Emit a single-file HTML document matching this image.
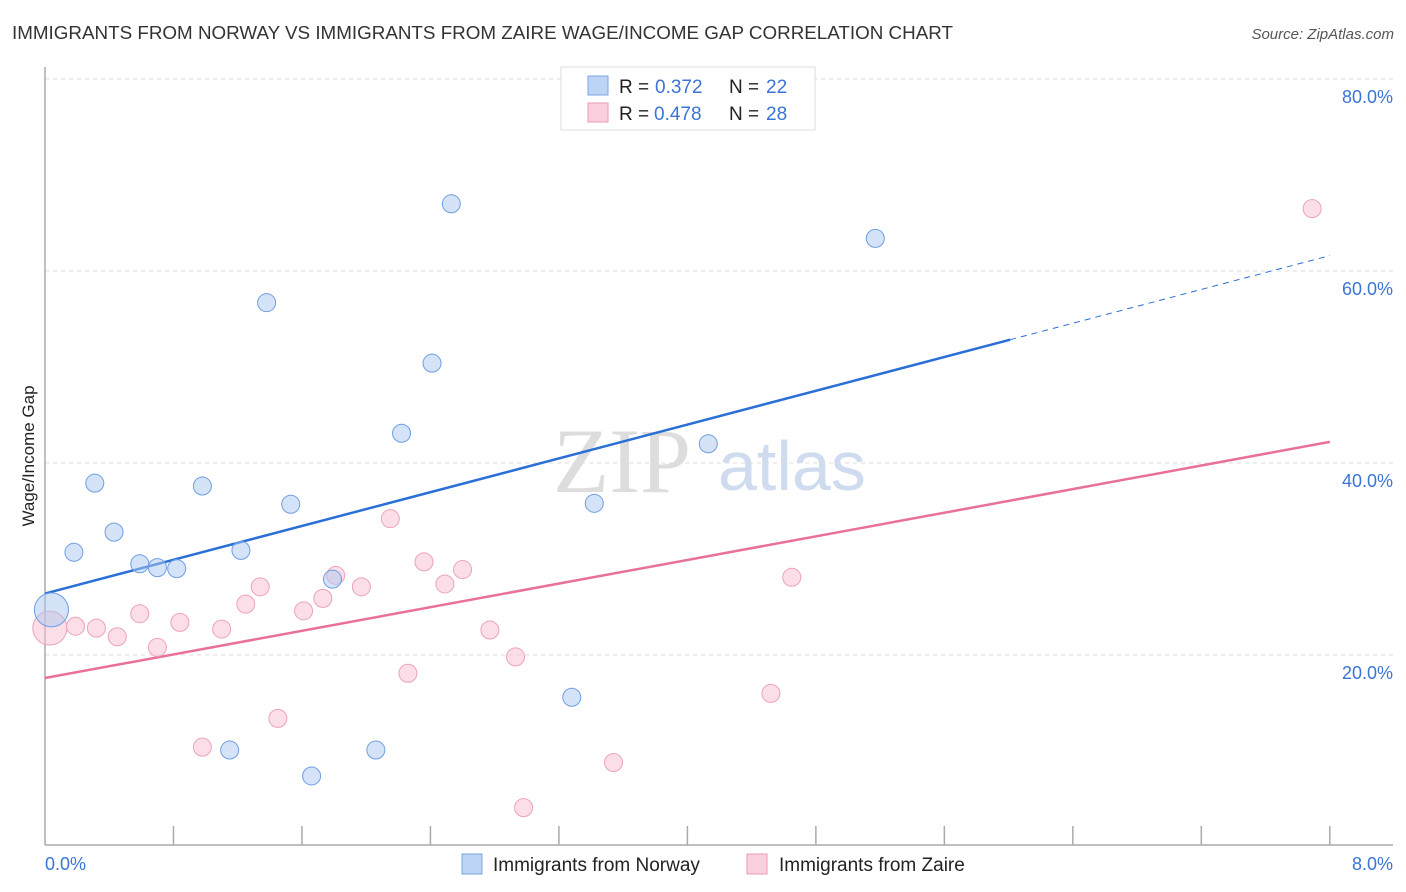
<!DOCTYPE html>
<html><head><meta charset="utf-8"><style>
body{margin:0;background:#fff;font-family:"Liberation Sans",sans-serif}
svg{display:block}
</style></head><body>
<svg id="chart" width="1406" height="892">
<text x="12" y="39" font-size="18.5" fill="#333" textLength="941" lengthAdjust="spacingAndGlyphs">IMMIGRANTS FROM NORWAY VS IMMIGRANTS FROM ZAIRE WAGE/INCOME GAP CORRELATION CHART</text>
<text x="1394" y="39" font-size="15" fill="#555" font-style="italic" text-anchor="end">Source: ZipAtlas.com</text>
<text x="0" y="0" transform="translate(34,456) rotate(-90)" font-size="17" fill="#222" text-anchor="middle">Wage/Income Gap</text>
<g><text x="553" y="492" font-size="92" fill="#ddd" font-family="Liberation Serif,serif">ZIP</text><text x="718" y="490" font-size="70" fill="#cfdcf0">atlas</text></g>
<g id="grid"></g><g id="axes"></g><g id="lines"></g><g id="pts"></g>
<g>
<rect x="561" y="67" width="254" height="63" fill="#fff" stroke="#ddd"/>
<rect x="588" y="76" width="20" height="19" fill="#bcd5f5" stroke="#7aa6e0"/>
<rect x="588" y="103" width="20" height="19" fill="#fbd0de" stroke="#ec9ab5"/>
<text x="619" y="93" font-size="19" fill="#222">R = </text><text x="655" y="93" font-size="19" fill="#3b74d6">0.372</text>
<text x="729" y="93" font-size="19" fill="#222">N = </text><text x="766" y="93" font-size="19" fill="#3b74d6">22</text>
<text x="619" y="120" font-size="19" fill="#222">R = </text><text x="654" y="120" font-size="19" fill="#3b74d6">0.478</text>
<text x="729" y="120" font-size="19" fill="#222">N = </text><text x="766" y="120" font-size="19" fill="#3b74d6">28</text>
</g>
<g>
<rect x="462" y="854" width="20" height="20" fill="#bcd5f5" stroke="#7aa6e0"/>
<text x="493" y="871" font-size="19" fill="#222">Immigrants from Norway</text>
<rect x="747" y="854" width="20" height="20" fill="#fbd0de" stroke="#ec9ab5"/>
<text x="779" y="871" font-size="19" fill="#222">Immigrants from Zaire</text>
</g>
</svg>
<script>
const norwayX=[0.04,0.18,0.31,0.43,0.59,0.70,0.82,0.98,1.15,1.22,1.38,1.53,1.66,1.79,2.06,2.22,2.41,2.53,3.28,3.42,4.13,5.17];
const norwayY=[24.7,30.7,37.9,32.8,29.5,29.1,29.0,37.6,10.1,30.9,56.7,35.7,7.4,27.9,10.1,43.1,50.4,67.0,15.6,35.8,42.0,63.4];
const zaireX=[0.03,0.19,0.32,0.45,0.59,0.70,0.84,0.98,1.10,1.25,1.34,1.45,1.61,1.73,1.81,1.97,2.15,2.26,2.36,2.49,2.60,2.77,2.93,2.98,3.54,4.52,4.65,7.89];
const zaireY=[22.8,23.0,22.8,21.9,24.3,20.8,23.4,10.4,22.7,25.3,27.1,13.4,24.6,25.9,28.3,27.1,34.2,18.1,29.7,27.4,28.9,22.6,19.8,4.1,8.8,16.0,28.1,66.5];
const norwayTrend=[26.4,61.6];
const zaireTrend=[17.6,42.2];
const yTicks=[20,40,60,80];
const xTickLabels=["0.0%","8.0%"];
const NS="http://www.w3.org/2000/svg";
const sx=v=>45+v*160.6, sy=v=>847-v*9.6;
function mk(parent,tag,attrs){const e=document.createElementNS(NS,tag);for(const k in attrs)e.setAttribute(k,attrs[k]);document.getElementById(parent).appendChild(e);return e;}
yTicks.forEach(t=>{
  const l=mk('grid','line',{x1:45,x2:1393,y1:sy(t),y2:sy(t),stroke:'#ddd','stroke-dasharray':'4,4'});
  
  
  const tx=mk('grid','text',{x:1393,y:sy(t)+24,'font-size':18,fill:'#3b74d6','text-anchor':'end'});
  tx.textContent=t.toFixed(1)+'%';
  
  
});
let a=mk('axes','line',{x1:45,x2:45,y1:67,y2:845,stroke:'#aaa','stroke-width':1.5});


a=mk('axes','line',{x1:45,x2:1393,y1:845,y2:845,stroke:'#aaa','stroke-width':1.5});


for(let i=1;i<=10;i++){const t=mk('axes','line',{x1:sx(i*0.8),x2:sx(i*0.8),y1:826,y2:845,stroke:'#aaa','stroke-width':1.5});
  
  }
[[0,xTickLabels[0],'start',45],[8,xTickLabels[1],'end',1393]].forEach(d=>{const t=mk('axes','text',{x:d[3],y:870,'font-size':18,fill:'#3b74d6','text-anchor':d[2]});t.textContent=d[1];
  
  });
const nb=x=>norwayTrend[0]+(norwayTrend[1]-norwayTrend[0])*x/8;
let ln=mk('lines','line',{x1:sx(0),y1:sy(nb(0)),x2:sx(6.01),y2:sy(nb(6.01)),stroke:'#2a6fd6','stroke-width':2.5});


ln=mk('lines','line',{x1:sx(6.01),y1:sy(nb(6.01)),x2:sx(8),y2:sy(nb(8)),stroke:'#2a6fd6','stroke-width':1,'stroke-dasharray':'6,5'});


ln=mk('lines','line',{x1:sx(0),y1:sy(zaireTrend[0]),x2:sx(8),y2:sy(zaireTrend[1]),stroke:'#e8709a','stroke-width':2.5});


zaireX.forEach((x,i)=>{const c=mk('pts','circle',{cx:sx(x),cy:sy(zaireY[i]),r:i==0?17:9,fill:'rgba(249,190,210,0.5)',stroke:'#eba3bb'});
  
  });
norwayX.forEach((x,i)=>{const c=mk('pts','circle',{cx:sx(x),cy:sy(norwayY[i]),r:i==0?17:9,fill:'rgba(170,200,240,0.5)',stroke:'#6f9ee0'});
  
  });
</script>
</body></html>
